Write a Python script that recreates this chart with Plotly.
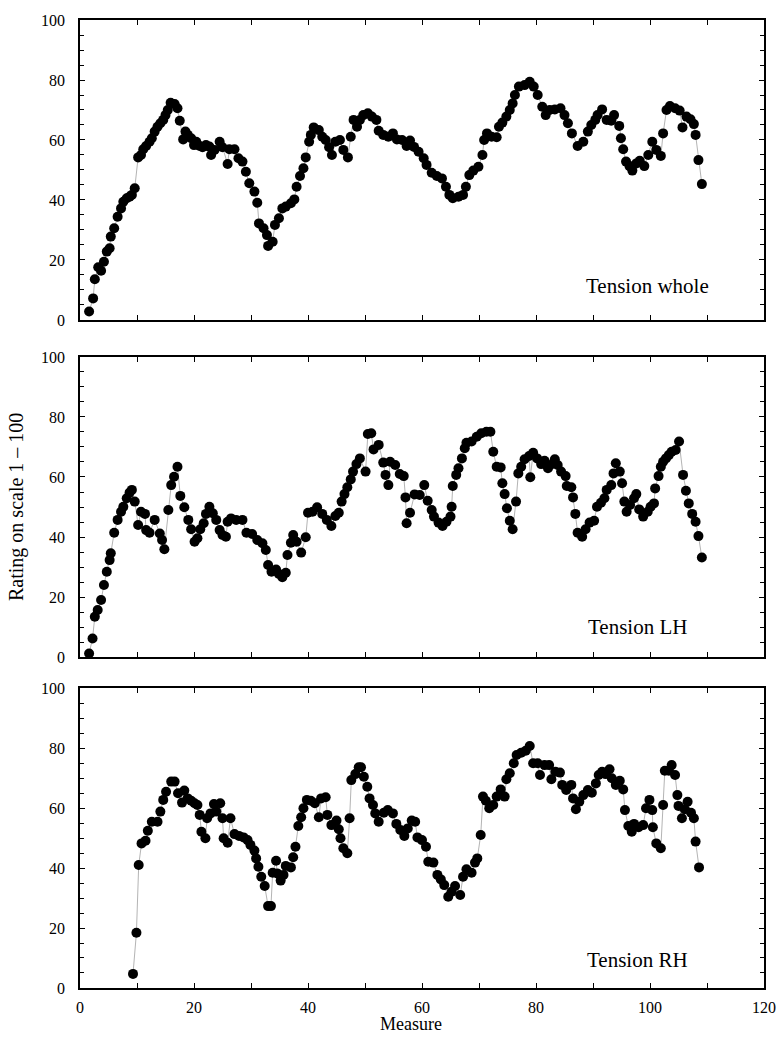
import plotly.graph_objects as go
from plotly.subplots import make_subplots

# ---- Tension whole ----
whole_x = [1.6, 2.3, 2.6, 3.2, 3.7, 4.2, 4.7, 5.2, 5.4, 6.0, 6.6, 7.2, 7.6, 8.2, 8.7, 9.1, 9.6,
           10.2, 10.7, 11.1, 11.6, 12.2, 12.6, 13.1, 13.6, 14.1, 14.6, 15.0, 15.4, 15.9, 16.6, 17.1,
           17.5, 18.1, 18.5, 18.9, 19.5, 20.0, 20.4, 21.0, 21.5, 22.1, 22.7, 23.0, 23.6, 24.5, 25.0,
           25.9, 26.2, 27.1, 27.8, 28.5, 29.1, 29.7, 30.6, 31.1, 31.4, 32.2, 32.8, 33.0, 33.8, 34.2,
           34.9, 35.5, 36.1, 37.0, 37.6, 38.0, 38.6, 39.2, 39.6, 40.2, 40.5, 41.0, 41.9, 42.5, 43.1,
           43.7, 44.2, 44.8, 45.6, 46.2, 47.0, 47.5, 48.0, 48.6, 49.1, 49.7, 50.5, 51.2, 52.0, 52.4,
           53.2, 54.1, 54.9, 55.6, 56.5, 57.3, 57.9, 58.6, 59.4, 60.3, 60.8, 61.7, 62.6, 63.5, 64.2,
           64.8, 65.4, 66.4, 67.2, 67.7, 68.3, 69.0, 69.9, 70.6, 70.9, 71.4, 72.2, 73.1, 73.5, 74.1,
           74.8, 75.4, 75.9, 76.3, 77.0, 78.0, 78.9, 79.6, 80.3, 81.1, 81.7, 82.4, 83.3, 84.3, 85.0,
           85.6, 86.3, 87.3, 88.3, 89.1, 89.7, 90.4, 90.8, 91.6, 92.4, 93.2, 93.7, 94.6, 94.9, 95.3,
           95.8, 96.4, 96.9, 97.6, 98.2, 99.0, 99.7, 100.4, 101.1, 101.9, 102.3, 102.9, 103.5, 104.4,
           105.2, 105.7, 106.4, 107.1, 107.7, 108.0, 108.5, 109.1]
whole_y = [2.8, 7.2, 13.6, 17.6, 16.4, 19.4, 22.8, 23.9, 27.8, 30.6, 34.4, 37.2, 39.4, 40.6, 41.1, 41.7, 43.9,
           54.2, 55.0, 56.9, 58.0, 59.4, 60.6, 62.8, 64.4, 65.6, 66.7, 68.3, 70.0, 72.4, 72.0, 70.6,
           66.4, 60.2, 62.8, 61.7, 60.6, 58.3, 59.4, 58.0, 57.6, 58.3, 57.8, 55.0, 56.7, 59.4, 57.6,
           52.0, 56.9, 56.9, 53.9, 52.8, 49.4, 45.6, 42.8, 39.1, 32.2, 30.6, 28.3, 24.7, 26.1, 31.7,
           33.9, 37.2, 37.8, 38.9, 40.2, 44.4, 48.0, 50.6, 54.2, 59.4, 61.7, 64.2, 63.3, 61.1, 60.0,
           57.6, 55.0, 59.4, 60.0, 56.7, 54.2, 61.1, 66.7, 64.4, 66.7, 68.3, 68.9, 67.8, 66.7, 63.1,
           61.7, 61.1, 62.2, 60.2, 60.0, 58.0, 59.8, 57.7, 56.1, 53.9, 51.7, 49.1, 48.0, 47.2, 44.4,
           41.7, 40.6, 41.1, 41.7, 44.4, 48.3, 49.8, 51.1, 55.0, 60.0, 62.2, 61.1, 60.9, 64.4, 65.8,
           67.8, 70.0, 72.2, 75.0, 77.8, 78.3, 79.4, 77.8, 75.0, 71.1, 68.3, 70.0, 70.2, 70.6, 68.3,
           65.6, 62.2, 58.0, 59.4, 62.8, 65.0, 66.7, 68.3, 70.2, 66.7, 66.4, 68.3, 64.7, 60.6, 56.9,
           52.8, 51.3, 49.8, 52.2, 53.1, 51.3, 55.0, 59.4, 56.7, 54.7, 62.2, 70.0, 71.3, 70.6,
           69.8, 64.2, 67.8, 66.9, 65.3, 61.7, 53.3, 45.3]

# ---- Tension LH ----
lh_x = [1.6, 2.2, 2.6, 3.1, 3.7, 4.2, 4.7, 5.2, 5.4, 6.0, 6.6, 7.2, 7.6, 8.2, 8.7, 9.1, 9.6,
        10.2, 10.7, 11.4, 11.6, 12.2, 13.1, 14.0, 14.4, 14.8, 15.5, 16.0, 16.5, 17.1, 17.6, 18.3,
        19.0, 19.5, 20.1, 20.6, 21.1, 21.7, 22.1, 22.7, 23.3, 23.9, 24.5, 25.0, 25.6, 25.9, 26.5,
        27.4, 28.5, 29.2, 30.2, 31.1, 32.0, 32.6, 33.0, 33.6, 34.4, 34.9, 35.5, 36.1, 36.4, 37.0,
        37.4, 38.0, 38.8, 39.6, 40.0, 40.8, 41.6, 42.5, 43.3, 44.1, 44.8, 45.4, 45.9, 46.4, 46.9,
        47.5, 47.9, 48.5, 49.1, 50.1, 50.5, 51.1, 51.5, 52.4, 53.2, 53.6, 54.1, 54.4, 55.3, 56.1,
        56.8, 57.1, 57.3, 57.9, 58.7, 59.6, 60.4, 61.0, 61.7, 62.1, 62.9, 63.6, 64.3, 65.0, 65.2,
        65.4, 66.0, 66.4, 67.0, 67.5, 67.8, 68.7, 69.6, 70.4, 71.3, 72.0, 72.5, 73.1, 73.8, 74.1,
        74.5, 74.9, 75.4, 75.9, 76.5, 76.9, 77.4, 78.0, 78.8, 79.0, 79.5, 80.2, 80.9, 81.5, 82.1,
        82.5, 83.3, 83.8, 84.4, 85.2, 85.4, 86.2, 86.5, 86.9, 87.3, 88.1, 88.7, 89.4, 90.2, 90.7,
        91.4, 92.0, 92.4, 93.2, 93.6, 94.0, 94.7, 95.1, 95.5, 95.9, 96.5, 97.2, 97.6, 98.1, 98.8,
        99.6, 100.1, 100.7, 100.9, 101.5, 101.9, 102.3, 102.8, 103.3, 103.8, 104.5, 105.1, 105.8,
        106.3, 106.8, 107.4, 108.0, 108.5, 109.1]
lh_y = [1.2, 6.2, 13.4, 15.7, 19.0, 24.0, 28.4, 32.3, 34.6, 41.4, 45.7, 48.4, 50.1, 52.9, 54.8, 55.7, 51.8,
        44.0, 48.4, 47.7, 42.3, 41.4, 45.7, 41.2, 39.0, 35.9, 49.0, 57.3, 60.1, 63.4, 53.7, 49.9,
        45.7, 42.6, 38.4, 39.6, 42.6, 44.6, 47.7, 50.1, 47.9, 45.7, 42.3, 40.7, 40.1, 45.1, 46.2,
        45.7, 45.7, 41.4, 41.0, 39.0, 37.9, 35.7, 30.7, 28.4, 29.2, 27.7, 26.6, 28.1, 34.0, 38.1,
        40.7, 38.4, 34.8, 39.9, 48.1, 48.4, 49.9, 47.7, 45.7, 43.7, 47.0, 48.1, 51.8, 54.3, 56.6,
        59.2, 61.8, 64.3, 66.2, 61.8, 74.3, 74.6, 69.2, 70.7, 64.8, 60.7, 57.3, 65.1, 64.0, 61.0,
        60.3, 53.2, 44.6, 48.1, 54.2, 54.0, 57.3, 52.1, 49.0, 46.8, 44.8, 43.7, 45.1, 46.8, 50.1,
        57.0, 60.7, 62.9, 66.2, 69.6, 71.4, 71.8, 73.4, 74.6, 75.1, 75.1, 68.4, 63.4, 63.2, 57.9,
        54.3, 49.6, 45.4, 42.6, 51.8, 61.2, 63.4, 65.9, 67.0, 59.9, 68.1, 66.2, 64.3, 65.4, 62.9,
        64.0, 65.9, 64.0, 61.8, 60.3, 57.0, 56.6, 53.2, 47.7, 41.4, 40.1, 42.6, 44.8, 45.4, 50.1,
        51.4, 52.9, 55.7, 57.3, 61.2, 64.6, 61.8, 57.9, 51.8, 48.4, 50.7, 52.9, 54.3, 49.2, 46.8,
        48.4, 50.1, 51.2, 56.2, 60.3, 63.4, 65.1, 66.2, 67.3, 68.4, 69.0, 71.8, 60.7,
        55.4, 51.2, 47.7, 45.1, 40.3, 33.2]

# ---- Tension RH ----
rh_x = [9.3, 9.9, 10.3, 10.8, 11.5, 11.9, 12.6, 13.6, 14.1, 14.6, 15.1, 16.0, 16.6, 17.2, 17.9,
        18.3, 18.9, 19.5, 20.1, 20.6, 21.0, 21.3, 22.0, 22.3, 22.9, 23.5, 23.9, 24.6, 25.0, 25.2,
        25.9, 26.4, 27.1, 27.9, 28.7, 29.4, 29.9, 30.6, 30.9, 31.3, 31.8, 32.4, 33.0, 33.5, 33.8,
        34.4, 34.6, 35.2, 35.7, 36.1, 37.0, 37.4, 37.8, 38.3, 38.8, 39.2, 39.8, 40.5, 41.2, 41.9,
        42.3, 43.1, 43.4, 44.1, 45.0, 45.4, 45.7, 46.2, 46.9, 47.3, 47.6, 48.3, 48.9, 49.3, 49.8,
        50.4, 50.8, 51.4, 51.8, 52.4, 53.3, 54.0, 54.9, 55.5, 56.2, 56.9, 57.5, 58.2, 58.8, 59.2,
        60.0, 60.7, 61.1, 62.0, 62.7, 63.3, 63.9, 64.6, 65.2, 65.8, 66.7, 67.2, 67.8, 68.7, 69.3,
        69.7, 70.3, 70.7, 71.2, 71.8, 72.5, 73.1, 73.8, 74.5, 74.8, 75.4, 76.1, 76.6, 77.4, 78.2,
        78.9, 79.5, 80.3, 80.7, 81.5, 82.3, 82.7, 83.4, 84.2, 84.6, 85.3, 86.2, 86.5, 87.0, 87.6,
        88.3, 89.1, 89.8, 90.5, 91.0, 91.6, 92.2, 92.9, 93.3, 94.0, 94.7, 95.3, 95.6, 96.2, 96.8,
        97.2, 98.0, 98.8, 99.3, 99.9, 100.4, 100.5, 101.1, 101.9, 102.3, 102.6, 103.3, 103.8, 104.4,
        104.8, 105.0, 105.6, 106.1, 106.6, 107.2, 107.7, 108.0, 108.6]
rh_y = [4.7, 18.4, 41.0, 48.2, 49.1, 52.4, 55.4, 55.4, 58.8, 62.7, 65.4, 68.8, 68.8, 64.9, 61.8,
        65.8, 63.2, 62.4, 61.6, 61.0, 57.7, 52.1, 49.9, 56.6, 58.2, 61.3, 58.8, 61.6, 56.6, 49.9,
        48.4, 56.6, 51.3, 50.7, 50.2, 49.3, 47.7, 45.8, 43.2, 40.4, 37.1, 34.0, 27.3, 27.3, 38.4,
        42.4, 38.2, 35.8, 37.7, 40.7, 40.2, 43.6, 47.1, 54.0, 56.9, 59.9, 62.7, 62.4, 61.6, 56.9,
        63.2, 63.6, 57.7, 54.3, 55.8, 52.9, 49.9, 46.6, 44.9, 56.6, 69.3, 71.3, 73.6, 73.6, 70.4,
        67.1, 63.2, 61.0, 58.2, 55.4, 58.4, 59.3, 58.2, 54.7, 52.7, 50.7, 53.2, 55.8, 55.4, 50.2,
        49.3, 47.1, 42.1, 41.8, 37.7, 36.2, 34.3, 30.4, 32.1, 34.0, 31.0, 37.1, 39.6, 38.4, 41.8,
        43.2, 51.0, 63.8, 62.4, 59.9, 61.0, 63.8, 66.2, 63.8, 69.6, 71.6, 74.9, 77.7, 78.4, 79.1,
        80.7, 74.9, 74.9, 71.0, 74.3, 74.3, 69.6, 72.1, 71.8, 67.7, 66.0, 67.7, 63.2, 59.6, 62.1,
        64.3, 66.0, 65.1, 68.2, 71.0, 72.1, 71.3, 72.9, 69.9, 67.7, 69.1, 66.2, 59.3, 54.0, 52.1,
        54.7, 53.6, 54.3, 59.9, 62.7, 59.3, 53.6, 48.2, 46.6, 61.0, 72.4, 72.4, 74.3, 71.0,
        64.3, 60.7, 56.6, 59.6, 62.1, 58.4, 56.6, 48.8, 40.2]

panel_labels = ["Tension whole", "Tension LH", "Tension RH"]
x_ticks = [0, 20, 40, 60, 80, 100, 120]
y_ticks = [0, 20, 40, 60, 80, 100]

SERIF = "Liberation Serif"

fig = make_subplots(rows=3, cols=1, shared_xaxes=True)
series = [(whole_x, whole_y), (lh_x, lh_y), (rh_x, rh_y)]
for i, (xs, ys) in enumerate(series, start=1):
    fig.add_trace(go.Scatter(
        x=xs, y=ys, mode="lines+markers",
        line=dict(color="#b4b4b4", width=1),
        marker=dict(color="black", size=10, line=dict(width=0)),
        cliponaxis=False, showlegend=False, hoverinfo="skip"),
        row=i, col=1)

domains = [[0.6901, 1.0], [0.3419, 0.6519], [0.0, 0.3099]]
axis_common = dict(
    showline=True, linecolor="black", linewidth=1.5, mirror="ticks",
    ticks="inside", ticklen=5, tickwidth=1.2, tickcolor="black",
    showgrid=False, zeroline=False, automargin=False,
    ticklabeloverflow="allow",
    tickfont=dict(family=SERIF, size=16, color="black"),
)
for i in range(1, 4):
    fig.update_xaxes(
        range=[0, 120], tickvals=x_ticks, showticklabels=(i == 3),
        ticklabelstandoff=4,
        minor=dict(dtick=10, ticks="inside", ticklen=5, tickcolor="black", tickwidth=1.2),
        row=i, col=1, **axis_common)
    fig.update_yaxes(
        range=[0, 100], tickvals=y_ticks, domain=domains[i - 1],
        ticklabelstandoff=10,
        minor=dict(dtick=5, ticks="inside", ticklen=4, tickcolor="black", tickwidth=1.2),
        row=i, col=1, **axis_common)

ann = []
label_pos = [(99.6, 11.3), (97.8, 10.0), (97.8, 9.3)]
for i, (lab, (lx, ly)) in enumerate(zip(panel_labels, label_pos), start=1):
    ann.append(dict(text=lab, x=lx, y=ly, xref=f"x{i}" if i > 1 else "x",
                    yref=f"y{i}" if i > 1 else "y", showarrow=False,
                    xanchor="center", yanchor="middle",
                    font=dict(family=SERIF, size=21, color="black")))
ann.append(dict(text="Rating on scale 1 – 100", xref="paper", yref="paper",
                x=-0.092, y=0.497, textangle=-90, showarrow=False,
                xanchor="center", yanchor="middle",
                font=dict(family=SERIF, size=20, color="black")))
ann.append(dict(text="Measure", xref="paper", yref="paper",
                x=0.484, y=-0.0372, showarrow=False,
                xanchor="center", yanchor="middle",
                font=dict(family=SERIF, size=18, color="black")))

fig.update_layout(
    width=777, height=1041,
    margin=dict(l=80, r=13, t=20, b=53),
    plot_bgcolor="white", paper_bgcolor="white",
    annotations=ann,
)

fig.write_html("out.html")
